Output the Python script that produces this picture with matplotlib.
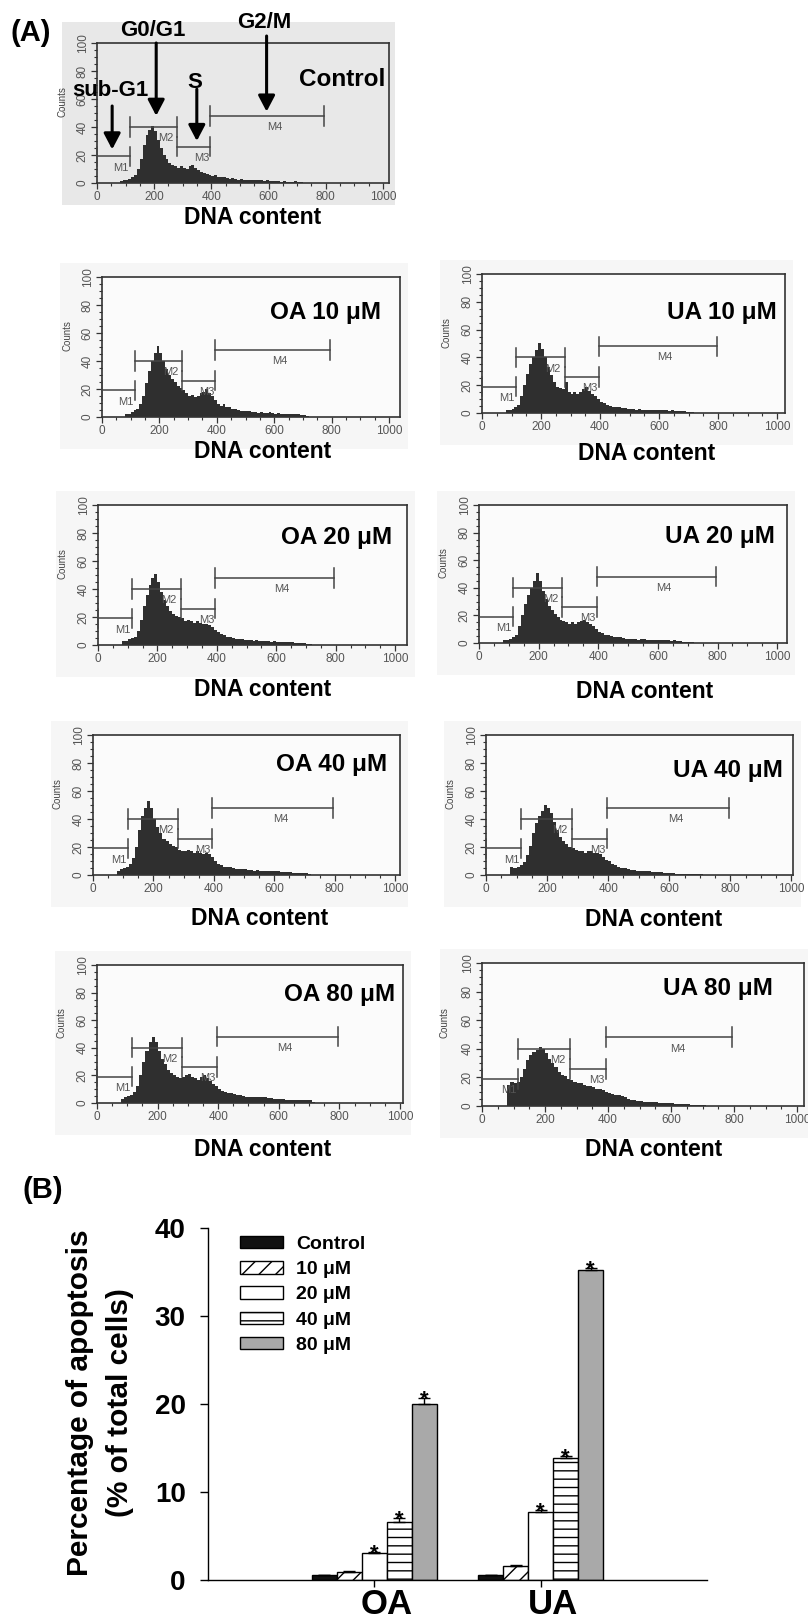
import numpy as np
import matplotlib
matplotlib.use("Agg")
import matplotlib.pyplot as plt
from matplotlib.patches import Patch, Rectangle
from matplotlib.ticker import MultipleLocator
import matplotlib.transforms as mtrans

plt.rcParams['font.family'] = ['Liberation Sans', 'DejaVu Sans']
plt.rcParams['hatch.linewidth'] = 1.0

# ---------------- data: DNA histograms (counts per 10-unit bin, starting at 70) ----------------
bin_start = 70
bin_width = 10

control_counts = [0, 1.5, 2, 2.5, 3, 4, 6, 10, 17, 27, 34, 38, 41, 37, 31, 25, 20, 17, 14, 13,
                  12, 11, 12, 11, 10, 12, 13, 11, 9, 8, 7, 6.5, 6, 5, 5.5, 4.5, 4, 4.5, 3.5, 3,
                  3.5, 3, 2.5, 3, 2.5, 2.5, 2, 2.5, 2, 2, 2, 1.5, 2, 1.5, 1.5, 1.5, 1.5, 1, 1.5, 1,
                  1, 1, 1.5, 1, 0.5, 0]
oa10_counts = [0, 2, 2.5, 3.5, 5, 6, 9, 15, 24, 33, 40, 46, 51, 46, 40, 34, 30, 27, 25, 22,
               21, 19, 17, 15, 16, 14, 15, 17, 18, 20, 17, 15, 12, 9, 8, 9, 7, 7, 6, 5.5,
               5, 4.5, 4, 4.5, 4, 3.5, 3.5, 3, 3.5, 3, 3, 3.5, 3, 2.5, 3, 2.5, 2.5, 2, 2.5, 2,
               2, 2, 1.5, 1.5, 0.5, 0]
ua10_counts = [0, 2, 2, 3, 4, 6, 12, 20, 28, 35, 40, 45, 50, 46, 40, 33, 27, 22, 19, 18,
               17, 22, 15, 14, 15, 14, 15, 17, 19, 16, 14, 12, 10, 8, 7, 5.5, 5, 4.5, 4, 4,
               3.5, 3.5, 3, 3, 3, 2.5, 3, 2.5, 2.5, 2.5, 2, 2.5, 2, 2, 2, 2, 1.5, 2, 1.5, 1.5,
               1.5, 1.5, 1, 1, 0.5, 0]
oa20_counts = [0, 3, 3, 4, 5, 6, 10, 18, 28, 36, 43, 48, 51, 45, 38, 32, 28, 24, 22, 21,
               20, 19, 17, 18, 17, 16, 17, 16, 15, 15, 14, 13, 11, 9, 8, 7, 6, 5.5, 5, 4.5,
               4, 4, 3.5, 3.5, 3.5, 3, 3.5, 3, 3, 3, 3, 2.5, 3, 2.5, 2.5, 2, 2, 2, 2, 1.5,
               1.5, 1.5, 1.5, 1, 0.5, 0]
ua20_counts = [0, 2, 2.5, 3, 4, 6, 12, 20, 28, 35, 40, 45, 51, 45, 38, 32, 27, 24, 21, 19,
               17, 16, 15, 14, 15, 14, 15, 16, 17, 15, 14, 12, 10, 8, 7, 6, 5.5, 5, 4.5, 4,
               4, 3.5, 3, 3, 3, 3, 2.5, 3, 3, 2.5, 2.5, 2.5, 2, 2.5, 2, 2, 2, 1.5, 2, 1.5,
               1.5, 1, 1, 1, 0.5, 0]
oa40_counts = [0, 3, 4, 5, 6, 8, 12, 20, 32, 42, 48, 53, 48, 40, 34, 30, 26, 24, 22, 21,
               20, 18, 17, 17, 18, 17, 16, 17, 16, 15, 16, 15, 13, 10, 8, 7, 6, 6, 5.5, 5,
               4.5, 4, 4, 4, 3.5, 3.5, 3, 3.5, 3, 3, 3, 2.5, 2.5, 2.5, 2.5, 2, 2, 2, 2, 1.5,
               1.5, 1.5, 1.5, 1.5, 1, 0]
ua40_counts = [0, 6, 5, 6, 7, 9, 14, 21, 30, 37, 42, 46, 50, 48, 44, 38, 32, 27, 24, 22,
               20, 19, 18, 17, 17, 16, 17, 17, 16, 16, 15, 13, 11, 10, 8, 7, 6, 5, 5, 4,
               3.5, 3.5, 3, 3, 2.5, 2.5, 2.5, 2, 2, 2, 2, 1.5, 1.5, 1.5, 1.5, 1, 1, 1, 1, 1,
               1, 0.5, 0.5, 0.5, 0, 0]
oa80_counts = [0, 3, 4, 5, 6, 8, 12, 20, 30, 38, 44, 48, 44, 38, 32, 28, 24, 22, 20, 19,
               18, 19, 20, 21, 19, 18, 17, 19, 20, 18, 16, 14, 12, 10, 9, 8, 7.5, 7, 6.5, 6,
               5.5, 5, 4.5, 4.5, 4.5, 4, 4, 4, 4, 3.5, 3.5, 3, 3, 3, 3, 2.5, 2.5, 2.5, 2.5, 2,
               2, 2, 2, 2, 1, 0]
ua80_counts = [0, 15, 17, 16, 17, 20, 26, 32, 36, 38, 39, 41, 40, 37, 33, 30, 27, 24, 22, 21,
               19, 18, 17, 16, 16, 15, 14, 14, 13, 12, 12, 11, 10, 9, 8.5, 8, 7.5, 7, 6, 5,
               4.5, 4, 3.5, 3.5, 3, 3, 2.5, 2.5, 2.5, 2, 2, 2, 2, 2, 1.5, 1.5, 1.5, 1.5, 1.5, 1,
               1, 1, 1, 0.5, 0, 0]

panel_titles = ['Control', 'OA 10 μM', 'UA 10 μM', 'OA 20 μM', 'UA 20 μM',
                'OA 40 μM', 'UA 40 μM', 'OA 80 μM', 'UA 80 μM']
panel_counts = [control_counts, oa10_counts, ua10_counts, oa20_counts, ua20_counts,
                oa40_counts, ua40_counts, oa80_counts, ua80_counts]

# marker gates
gate_names = ['M1', 'M2', 'M3', 'M4']
gate_lo = [0, 115, 280, 395]
gate_hi = [115, 280, 395, 795]
gate_y = [19, 40, 26, 48]
gate_label_x = [84, 240, 365, 620]

x_ticks = [0, 200, 400, 600, 800, 1000]
y_ticks = [0, 20, 40, 60, 80, 100]

# phase annotations on control
phase_names = ['sub-G1', 'G0/G1', 'S', 'G2/M']
phase_x = [53, 207, 349, 593]
phase_from = [55, 100, 67, 105]
phase_to = [24, 48, 30, 51]

# ---------------- data: apoptosis bar chart ----------------
groups = ['OA', 'UA']
doses = ['Control', '10 μM', '20 μM', '40 μM', '80 μM']
oa_vals = [0.55, 0.95, 3.05, 6.55, 20.0]
oa_err = [0.05, 0.1, 0.15, 0.45, 0.65]
ua_vals = [0.55, 1.55, 7.7, 13.9, 35.2]
ua_err = [0.05, 0.1, 0.3, 0.15, 0.2]
oa_sig = [False, False, True, True, True]
ua_sig = [False, False, True, True, True]

# ---------------- layout ----------------
W, H = 808, 1614
fig = plt.figure(figsize=(W / 100, H / 100), dpi=100)
fig.patch.set_facecolor('white')


def px_axes(l, t, r, b):
    return fig.add_axes([l / W, 1 - b / H, (r - l) / W, (b - t) / H])


def ftext(x, y, s, **kw):
    return fig.text(x / W, 1 - y / H, s, **kw)


# frame (left, right, top(y=100), bottom(y=0)), xmax, title centre, DNA label centre
panel_frames = [(97, 389, 43, 183), (102, 400, 277, 417), (482, 785, 274, 413),
                (98, 407, 505, 645), (479, 787, 505, 643), (93, 400, 735, 875),
                (486, 793, 735, 875), (97, 403, 965, 1103), (482, 804, 963, 1106)]
panel_xmax = [1021, 1038, 1027, 1040, 1033, 1016, 1005, 1010, 1022]
title_pos = [(342, 80), (325, 313), (722, 313), (337, 538), (720, 537),
             (332, 765), (728, 770), (340, 995), (718, 988)]
dna_pos = [(253, 218), (263, 452), (647, 453), (263, 690), (645, 692),
           (260, 919), (654, 920), (263, 1150), (654, 1150)]

# background grey of the control scan and faint panel scans
fig.patches.append(Rectangle((62 / W, 1 - 205 / H), (395 - 62) / W, (205 - 22) / H,
                             transform=fig.transFigure, facecolor='#e8e8e8',
                             edgecolor='none', zorder=-2))
for i, (l, r, t, b) in enumerate(panel_frames[1:]):
    fig.patches.append(Rectangle(((l - 42) / W, 1 - (b + 32) / H), (r - l + 50) / W,
                                 (b - t + 46) / H, transform=fig.transFigure,
                                 facecolor='#f6f6f6', edgecolor='none', zorder=-2))

axes_list = []
for i in range(9):
    l, r, t, b = panel_frames[i]
    ax = px_axes(l, t, r, b)
    ax.set_zorder(2)
    axes_list.append(ax)
    vals = panel_counts[i]
    edges = bin_start + bin_width * np.arange(len(vals) + 1)
    ax.stairs(vals, edges, fill=True, color='#2f2f2f', baseline=0, zorder=2)
    ax.set_xlim(0, panel_xmax[i])
    ax.set_ylim(0, 100)
    ax.set_facecolor('#e8e8e8' if i == 0 else '#fbfbfb')
    for sp in ax.spines.values():
        sp.set_color('#333333')
        sp.set_linewidth(1.2)
    ax.set_xticks(x_ticks)
    ax.set_yticks(y_ticks)
    ax.xaxis.set_minor_locator(MultipleLocator(50))
    ax.yaxis.set_minor_locator(MultipleLocator(5))
    ax.tick_params(which='major', direction='out', length=4, width=0.9, color='#333333',
                   labelsize=8.5, labelcolor='#555555', pad=2)
    ax.tick_params(which='minor', direction='out', length=2, width=0.8, color='#333333')
    ax.tick_params(axis='y', labelrotation=90)
    for lab in ax.get_yticklabels():
        lab.set_va('center')
    ax.set_ylabel('Counts', fontsize=7, color='#444444')
    ax.yaxis.set_label_coords(-0.1, 0.58)
    # gates
    for gn, lo, hi, gy, gx in zip(gate_names, gate_lo, gate_hi, gate_y, gate_label_x):
        ax.plot([lo, hi], [gy, gy], color='#444444', lw=1.1, zorder=3, clip_on=False)
        ax.plot([lo, lo], [gy - 7, gy + 7], color='#444444', lw=1.1, zorder=3, clip_on=False)
        ax.plot([hi, hi], [gy - 7, gy + 7], color='#444444', lw=1.1, zorder=3)
        ax.text(gx, gy - 8, gn, fontsize=8, color='#555555', ha='center', va='center', zorder=4)

# control phase arrows
ax0 = axes_list[0]
for name, x, y1, y2 in zip(phase_names, phase_x, phase_from, phase_to):
    ax0.annotate('', xy=(x, y2), xytext=(x, y1), xycoords='data', textcoords='data',
                 annotation_clip=False,
                 arrowprops=dict(arrowstyle='-|>,head_width=0.42,head_length=0.8',
                                 lw=2.2, color='black', shrinkA=0, shrinkB=0,
                                 mutation_scale=12))

# figure-level texts (drawn above all axes)
for i in range(9):
    tx, ty = title_pos[i]
    ftext(tx, ty, panel_titles[i], fontsize=17.5, fontweight='bold', ha='center',
          va='center', zorder=5)
    dx, dy = dna_pos[i]
    ftext(dx, dy, 'DNA content', fontsize=16.5, fontweight='bold', ha='center',
          va='center', zorder=5)

phase_label_pos = [(110, 90), (153, 31), (195, 83), (264, 22)]
for name, (px, py) in zip(phase_names, phase_label_pos):
    ftext(px, py, name, fontsize=16, fontweight='bold', ha='center', va='center', zorder=5)

ftext(31, 33, '(A)', fontsize=21, fontweight='bold', ha='center', va='center')
ftext(43, 1190, '(B)', fontsize=21, fontweight='bold', ha='center', va='center')

# ---------------- bar chart ----------------
axb = px_axes(208, 1228, 707, 1580)
axb.set_xlim(-1, 2)
axb.set_ylim(0, 40)
bw = 0.15
offsets = [-2, -1, 0, 1, 2]
face = ['#111111', 'white', 'white', 'white', '#a9a9a9']
hatches = [None, '//', None, '--', None]
gx = np.arange(len(groups))
all_vals = [oa_vals, ua_vals]
all_err = [oa_err, ua_err]
all_sig = [oa_sig, ua_sig]
for j, dose in enumerate(doses):
    xs = gx + offsets[j] * bw
    v = [all_vals[g][j] for g in range(len(groups))]
    e = [all_err[g][j] for g in range(len(groups))]
    axb.bar(xs, v, width=bw, color=face[j], edgecolor='black', linewidth=1.0,
            hatch=hatches[j], label=dose, zorder=2)
    axb.errorbar(xs, v, yerr=[np.zeros(len(e)), e], fmt='none', ecolor='black',
                 elinewidth=1.0, capsize=4, capthick=1.0, zorder=3)
    for g in range(len(groups)):
        if all_sig[g][j]:
            axb.annotate('*', (xs[g], v[g] + e[g]), xytext=(0, -5.5),
                         textcoords='offset points', ha='center', va='baseline',
                         fontsize=16, fontweight='bold')

axb.spines['top'].set_visible(False)
axb.spines['right'].set_visible(False)
for sp in ['left', 'bottom']:
    axb.spines[sp].set_linewidth(1.0)
axb.set_yticks([0, 10, 20, 30, 40])
axb.tick_params(axis='y', direction='out', length=6, width=1.0, labelsize=20, pad=10)
for lab in axb.get_yticklabels():
    lab.set_fontweight('bold')
axb.set_xticks(gx)
axb.set_xticklabels(groups, fontsize=25, fontweight='bold')
axb.tick_params(axis='x', direction='out', length=5, width=1.0, pad=1)
shift = mtrans.ScaledTranslation(0.12, 0, fig.dpi_scale_trans)
for lab in axb.get_xticklabels():
    lab.set_transform(lab.get_transform() + shift)
    lab.set_va('top')

ftext(80, 1403, 'Percentage of apoptosis', fontsize=21.5, fontweight='bold',
      rotation=90, ha='center', va='center')
ftext(120, 1403, '(% of total cells)', fontsize=21.5, fontweight='bold',
      rotation=90, ha='center', va='center')

handles = [Patch(facecolor=face[j], edgecolor='black', hatch=hatches[j], label=doses[j])
           for j in range(len(doses))]
axb.legend(handles=handles, loc='upper left', bbox_to_anchor=(240 / W, 1 - 1236 / H),
           bbox_transform=fig.transFigure, frameon=False,
           prop={'weight': 'bold', 'size': 14}, handlelength=2.2, handleheight=0.6,
           labelspacing=0.42, handletextpad=0.7, borderpad=0, borderaxespad=0)

fig.savefig('out.png', dpi=100)
